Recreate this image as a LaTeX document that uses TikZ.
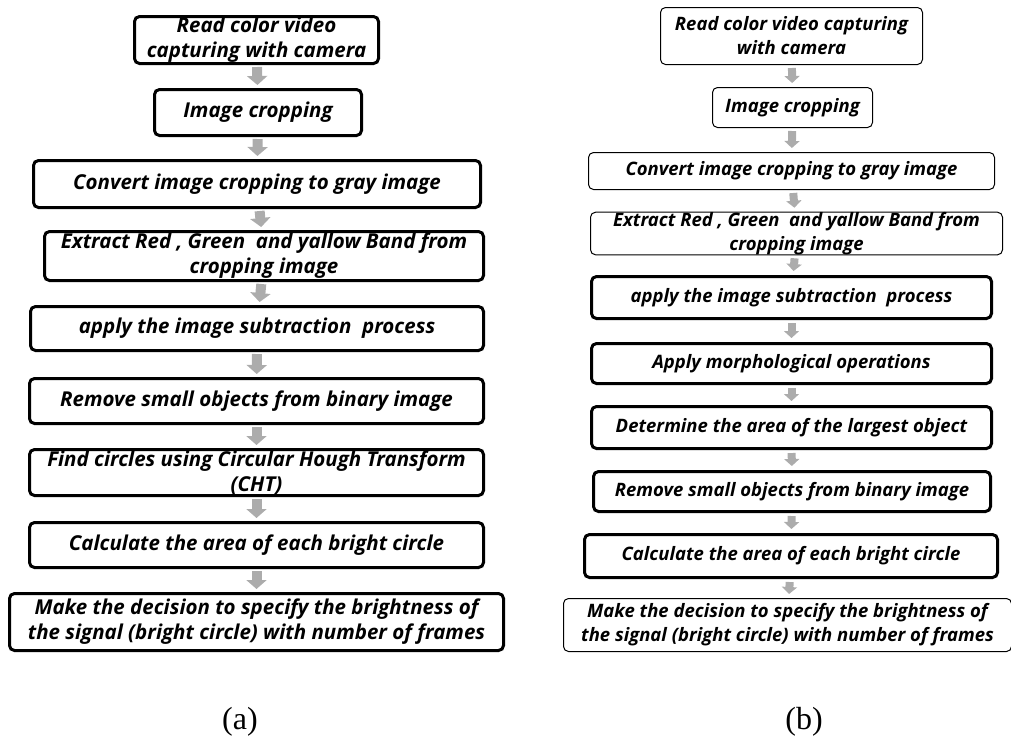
\documentclass[tikz,border=0pt]{standalone}
\usepackage{fontspec}
\setmainfont{Liberation Serif}
\newfontfamily\stepfont{Open Sans}
\usetikzlibrary{arrows.meta}

\begin{document}
\begin{tikzpicture}[x=1pt,y=-1pt,
    stepbox/.style={draw,rounded corners=5pt,inner sep=0pt,align=center,
      font=\stepfont\bfseries\itshape\fontsize{20.5}{25}\selectfont},
    boldbox/.style={stepbox,line width=3pt},
    thinbox/.style={stepbox,line width=1pt},
    flowa/.style={draw=gray!65,line width=10pt,shorten <=2pt,shorten >=3pt,
      -{Triangle[width=20pt,length=9pt]}},
    flowb/.style={draw=gray!65,line width=8pt,shorten <=3pt,shorten >=4pt,
      -{Triangle[width=15pt,length=7pt]}},
    caption/.style={font=\fontsize{32}{36}\selectfont}]

    \useasboundingbox (0,0) rectangle (1011,740);

    % (a)
    \node[boldbox,minimum width=244pt,minimum height=47pt] (a1) at (256.5,40)
      {Read color video\\capturing with camera};
    \node[boldbox,minimum width=207pt,minimum height=46pt] (a2) at (258,112.5)
      {Image cropping};
    \node[boldbox,minimum width=447pt,minimum height=47pt] (a3) at (257,184)
      {Convert image cropping to gray image};
    \node[boldbox,minimum width=439pt,minimum height=49pt] (a4) at (264,256)
      {Extract Red , Green~ and yallow Band from\\cropping image};
    \node[boldbox,minimum width=453pt,minimum height=44pt] (a5) at (257,328.5)
      {apply the image subtraction~ process};
    \node[boldbox,minimum width=454pt,minimum height=45pt] (a6) at (256.5,401)
      {Remove small objects from binary image};
    \node[boldbox,minimum width=454pt,minimum height=46pt] (a7) at (256.5,472.5)
      {Find circles using Circular Hough Transform\\(CHT)};
    \node[boldbox,minimum width=454pt,minimum height=45pt] (a8) at (256.5,545)
      {Calculate the area of each bright circle};
    \node[boldbox,minimum width=494pt,minimum height=57pt] (a9) at (256.5,622)
      {Make the decision to specify the brightness of\\the signal (bright circle) with number of frames};

    % (b)
    \begin{scope}[stepbox/.append style={font=\stepfont\bfseries\itshape\fontsize{18.5}{24}\selectfont}]
    \node[thinbox,minimum width=262pt,minimum height=57pt] (b1) at (791.5,36)
      {Read color video capturing\\with camera};
    \node[thinbox,minimum width=160pt,minimum height=40pt] (b2) at (792.5,107.5)
      {Image cropping};
    \node[thinbox,minimum width=406pt,minimum height=37pt] (b3) at (791.5,171)
      {Convert image cropping to gray image};
    \node[thinbox,minimum width=412pt,minimum height=42pt] (b4) at (796.5,233.5)
      {Extract Red , Green~ and yallow Band from\\cropping image};
    \node[boldbox,minimum width=400pt,minimum height=42pt] (b5) at (791.5,297.5)
      {apply the image subtraction~ process};
    \node[boldbox,minimum width=400pt,minimum height=40pt] (b6) at (791.5,363.5)
      {Apply morphological operations};
    \node[boldbox,minimum width=400pt,minimum height=42pt] (b7) at (791.5,427.5)
      {Determine the area of the largest object};
    \node[boldbox,minimum width=397pt,minimum height=40pt] (b8) at (792,491.5)
      {Remove small objects from binary image};
    \node[boldbox,minimum width=413pt,minimum height=43pt] (b9) at (791,556)
      {Calculate the area of each bright circle};
    \node[thinbox,minimum width=448pt,minimum height=53pt] (b10) at (787.5,625)
      {Make the decision to specify the brightness of\\the signal (bright circle) with number of frames};
    \end{scope}

    \foreach \i/\j in {1/2,2/3,3/4,4/5,5/6,6/7,7/8,8/9}
      \draw[flowa] (a\i) -- (a\j);
    \foreach \i/\j in {1/2,2/3,3/4,4/5,5/6,6/7,7/8,8/9,9/10}
      \draw[flowb] (b\i) -- (b\j);

    \node[caption] (capa) at (240,722) {(a)};
    \node[caption] (capb) at (804,722) {(b)};

  \end{tikzpicture}
\end{document}
